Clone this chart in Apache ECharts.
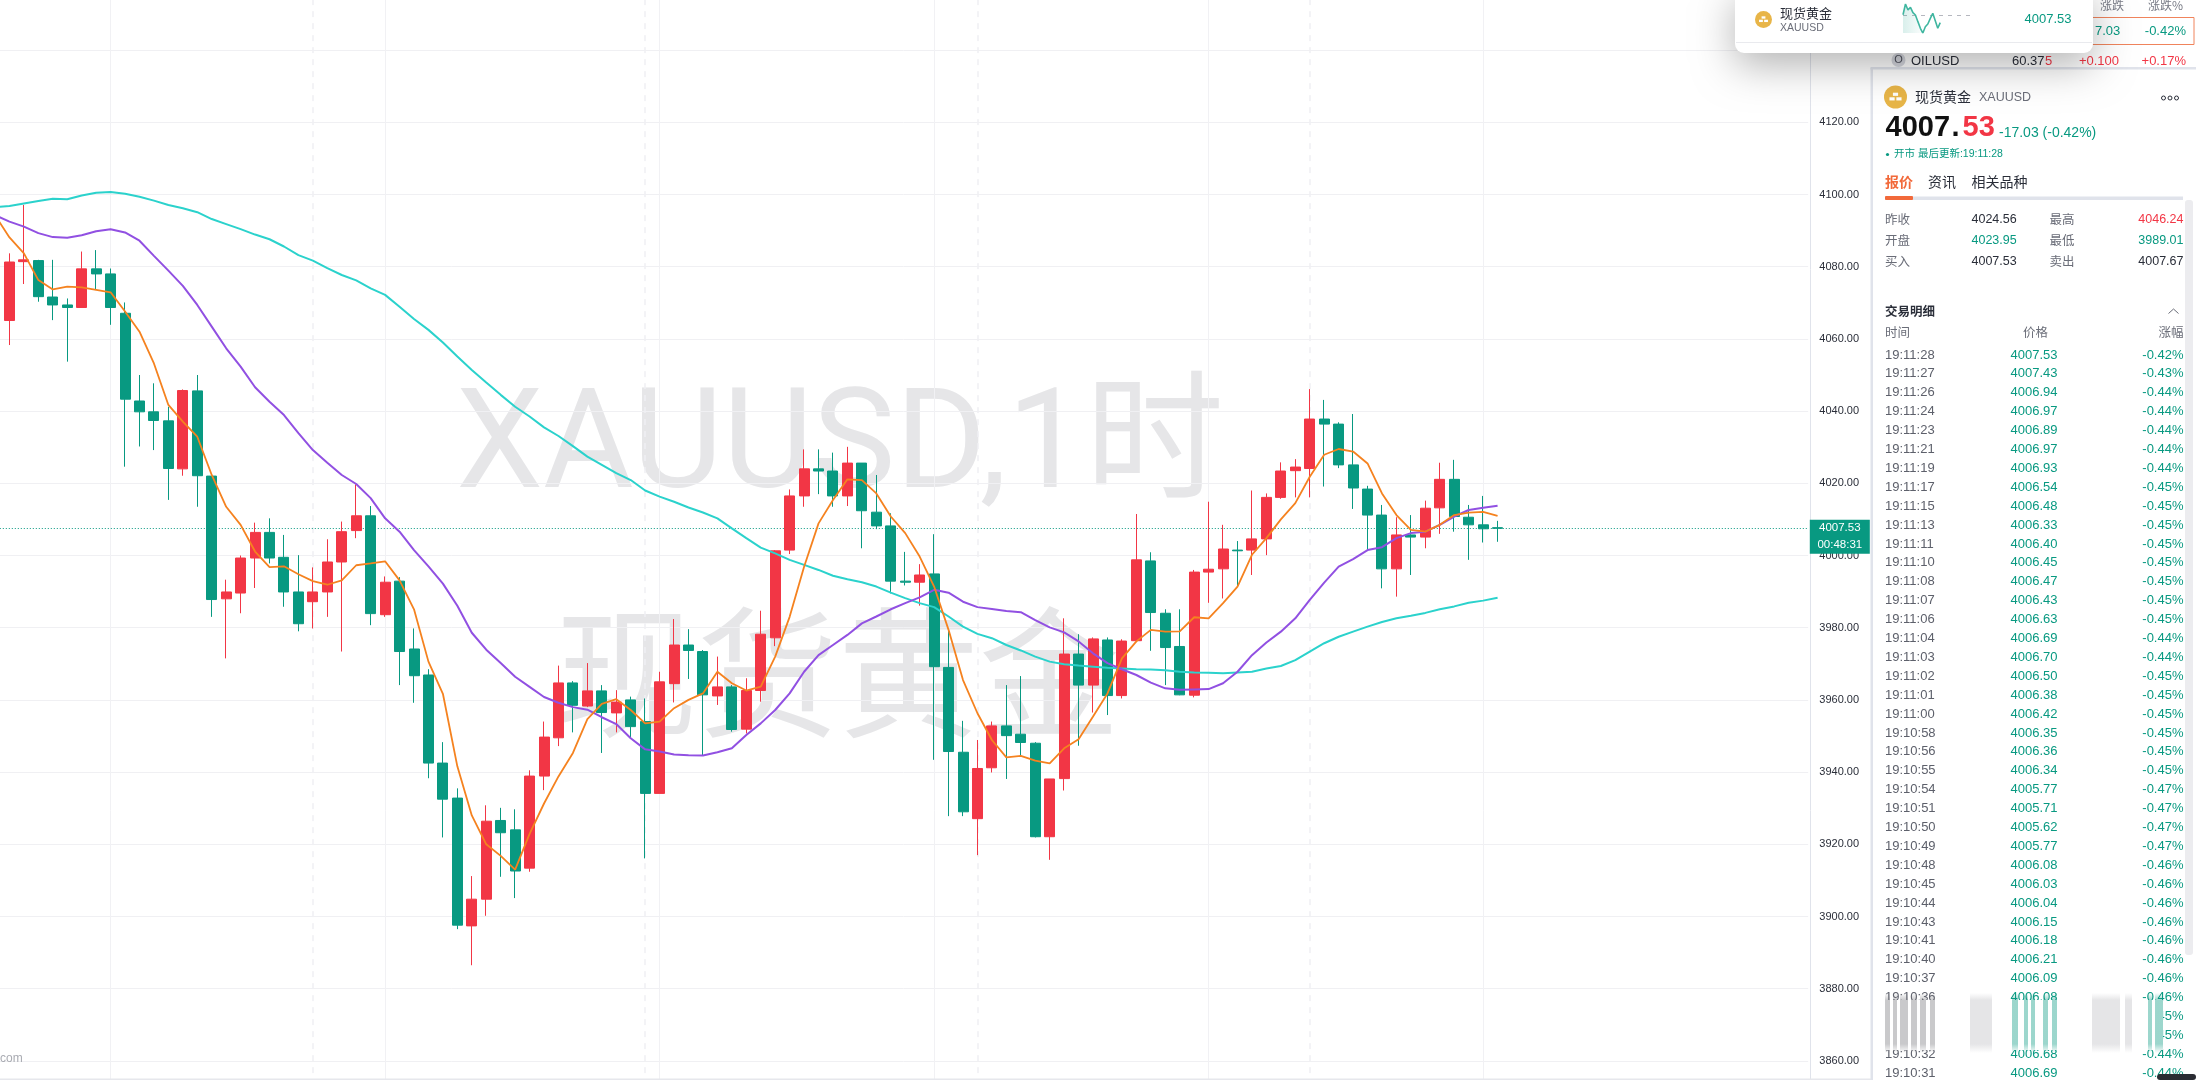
<!DOCTYPE html>
<html>
<head>
<meta charset="utf-8">
<title>XAUUSD</title>
<script src="https://cdn.jsdelivr.net/npm/echarts@6/dist/echarts.min.js"></script>
<style>
  html, body { margin: 0; padding: 0; background: #fff; }
  #chart { width: 2196px; height: 1080px; }
</style>
</head>
<body>
<div id="chart"></div>
<script>
// candles, oldest first
const candleOpen = [4065.1,4081.4,4081.7,4071.6,4069.4,4068.7,4079.4,4078.0,4067.1,4042.8,4039.8,4037.3,4024.0,4045.6,4022.0,3988.0,3989.6,3999.3,4006.4,3999.5,3989.9,3987.2,3989.9,3998.2,4006.9,4011.0,3983.6,3992.9,3974.1,3966.9,3942.5,3932.8,3897.4,3904.8,3926.6,3924.0,3913.4,3938.9,3949.5,3964.7,3958.3,3962.5,3956.4,3960.0,3954.0,3934.1,3964.5,3975.2,3973.4,3961.1,3963.6,3951.9,3962.6,3977.2,4001.5,4016.5,4024.0,4023.4,4016.5,4025.6,4012.0,4008.2,3992.9,3992.6,3994.9,3969.0,3945.5,3927.1,3941.2,3952.8,3950.5,3948.0,3922.1,3938.2,3972.7,3964.1,3976.6,3961.2,3976.4,3998.5,3984.0,3974.8,3961.3,3995.4,3996.3,4001.5,4001.5,4004.6,4016.1,4023.5,4024.1,4037.8,4036.4,4025.1,4018.4,4011.2,3996.3,4005.7,4005.1,4013.2,4021.1,4010.6,4008.5,4007.7];
const candleClose = [4081.3,4081.9,4071.7,4069.4,4068.7,4079.4,4078.0,4068.7,4043.3,4039.8,4037.4,4024.1,4045.7,4022.1,3987.8,3989.9,3999.3,4006.4,3999.3,3989.9,3981.1,3989.9,3998.2,4006.6,4011.0,3983.9,3992.6,3973.4,3966.7,3942.5,3932.5,3897.6,3904.8,3926.4,3923.2,3912.6,3938.9,3949.7,3964.7,3958.5,3962.5,3956.5,3959.4,3952.6,3934.1,3965.0,3975.2,3973.7,3961.4,3963.6,3951.8,3962.6,3978.2,4001.3,4016.5,4024.0,4023.4,4016.5,4025.6,4012.4,4008.2,3992.9,3992.6,3994.6,3969.2,3945.7,3929.0,3941.0,3952.8,3950.1,3948.2,3922.1,3938.1,3972.7,3964.1,3976.9,3961.2,3976.3,3998.8,3984.2,3974.5,3961.4,3995.4,3996.2,4001.8,4001.3,4004.6,4016.1,4023.4,4024.5,4037.8,4036.4,4025.1,4018.7,4011.2,3996.3,4005.7,4005.1,4013.1,4021.1,4010.8,4008.5,4007.4,4007.53];
const candleLow = [4058.3,4075.2,4070.3,4065.2,4053.7,4068.7,4073.7,4063.9,4024.6,4030.2,4029.2,4015.4,4022.1,4013.5,3983.0,3971.5,3984.0,3991.0,3997.8,3985.8,3979.0,3979.8,3983.0,3973.4,4004.8,3980.7,3983.0,3964.1,3959.2,3938.3,3921.9,3896.5,3886.5,3900.2,3911.0,3905.1,3912.4,3935.0,3947.2,3951.0,3958.0,3945.3,3951.0,3949.6,3916.1,3934.1,3959.3,3965.8,3944.7,3958.6,3951.2,3950.7,3959.5,3974.9,4000.4,4013.5,4017.0,4013.5,4013.7,4002.0,4007.3,3989.5,3991.7,3986.1,3943.4,3927.8,3927.8,3917.0,3939.9,3938.1,3944.7,3921.9,3915.7,3934.9,3947.3,3956.5,3955.8,3960.4,3976.4,3973.6,3964.1,3961.3,3960.7,3986.9,3988.1,3991.4,3994.6,4000.1,4015.7,4016.1,4016.1,4019.1,4024.2,4012.9,4001.5,3990.9,3988.6,3994.6,4002.0,4006.0,4006.6,3998.8,4003.6,4003.8];
const candleHigh = [4083.7,4097.1,4081.9,4081.9,4071.2,4084.2,4084.6,4079.5,4070.1,4050.0,4047.7,4041.2,4046.0,4050.0,4022.0,3993.3,4000.0,4009.1,4010.3,4005.7,4000.1,3996.7,4004.5,4009.4,4019.7,4013.7,3994.2,3994.0,3979.8,3968.5,3948.3,3935.5,3911.2,3930.8,3930.1,3929.7,3940.5,3954.0,3969.5,3965.2,3970.2,3964.1,3962.7,3960.9,3960.4,3967.8,3982.4,3979.6,3973.8,3972.0,3964.1,3966.0,3984.7,4001.5,4018.3,4029.4,4029.4,4028.5,4030.1,4025.6,4022.3,4011.7,4001.0,3997.6,4005.9,3979.4,3954.2,3948.9,3954.0,3964.1,3966.6,3948.3,3938.1,3982.6,3978.2,3977.3,3977.3,3976.8,4011.5,4000.9,3985.1,3985.1,3996.0,4014.9,4008.5,4004.0,4018.0,4017.2,4025.8,4026.7,4046.1,4043.1,4036.9,4039.2,4019.3,4014.0,4010.6,4011.2,4015.2,4025.7,4026.5,4014.0,4016.5,4009.6];

// moving averages start one bar earlier, left of the picture edge
const ma5 = [4094.3,4088.1,4083.7,4076.3,4073.7,4074.5,4074.3,4073.6,4072.9,4067.6,4062.0,4053.2,4041.7,4037.1,4032.9,4022.3,4013.5,4008.5,4001.1,3996.8,3997.0,3994.8,3992.9,3991.9,3993.1,3997.3,3997.8,3998.4,3993.1,3985.1,3970.6,3961.7,3941.6,3928.0,3920.0,3916.8,3913.0,3922.9,3931.3,3938.8,3945.3,3954.7,3958.9,3960.2,3957.2,3953.5,3954.0,3957.7,3960.0,3961.8,3967.8,3964.6,3962.6,3963.7,3972.0,3983.0,3996.9,4008.9,4015.4,4021.1,4020.9,4017.2,4010.8,4006.2,3999.7,3991.4,3979.4,3965.5,3956.3,3948.9,3944.1,3944.5,3943.2,3942.4,3946.6,3949.1,3955.4,3961.8,3971.5,3976.2,3979.4,3978.9,3979.0,3982.9,3982.6,3986.8,3991.4,4000.2,4004.8,4010.0,4014.5,4021.8,4027.9,4029.5,4028.8,4025.5,4017.2,4011.2,4007.1,4006.6,4008.5,4011.2,4011.9,4012.1,4011.0];
const ma20 = [4094.3,4092.5,4091.1,4089.3,4088.2,4088.0,4088.7,4089.8,4090.4,4089.5,4087.2,4083.0,4078.9,4074.7,4069.4,4063.4,4057.4,4052.3,4046.6,4042.6,4038.9,4033.9,4029.2,4025.7,4022.3,4019.8,4015.9,4010.3,4006.6,4001.5,3997.0,3992.2,3986.1,3978.6,3973.9,3970.2,3966.4,3963.6,3960.8,3959.2,3958.0,3957.3,3955.2,3953.3,3949.4,3946.3,3945.7,3944.9,3944.7,3944.6,3945.5,3946.6,3950.3,3953.5,3957.2,3961.8,3967.8,3972.4,3975.2,3978.0,3981.2,3983.1,3985.1,3986.8,3988.4,3990.5,3989.7,3987.2,3985.7,3985.2,3984.6,3984.3,3982.1,3980.1,3978.7,3976.2,3972.9,3970.2,3968.5,3966.9,3964.8,3963.2,3962.8,3962.9,3963.0,3964.6,3967.8,3972.4,3975.9,3978.9,3982.6,3987.7,3992.5,3996.9,3999.0,4001.5,4002.3,4004.8,4006.2,4006.6,4008.5,4010.8,4012.6,4013.2,4013.8];
const ma60 = [4096.5,4096.8,4097.5,4098.2,4098.8,4098.7,4099.7,4100.5,4100.7,4100.2,4099.4,4098.3,4097.1,4096.2,4095.1,4093.2,4091.8,4090.4,4088.9,4087.6,4085.6,4083.2,4081.7,4079.6,4077.7,4076.2,4074.0,4072.2,4068.9,4065.5,4062.5,4059.0,4055.1,4051.4,4047.9,4044.5,4041.2,4038.5,4035.5,4033.1,4030.3,4027.4,4025.1,4022.8,4020.9,4018.0,4016.3,4014.9,4013.3,4011.9,4010.3,4007.5,4004.8,4002.2,4000.6,3998.8,3997.4,3996.0,3994.4,3993.4,3992.6,3991.4,3989.7,3988.2,3986.8,3985.7,3983.1,3980.3,3978.3,3977.1,3975.2,3973.7,3972.0,3970.6,3969.9,3969.5,3969.2,3968.9,3968.7,3968.5,3968.4,3968.2,3967.8,3967.6,3967.5,3967.4,3967.6,3967.8,3968.7,3969.4,3971.0,3973.4,3975.7,3977.5,3978.9,3980.3,3981.6,3982.6,3983.3,3984.1,3985.1,3985.9,3986.9,3987.5,3988.3];

const yTicksMin = 3840;
const yTicksMax = 4160;
const yTickStep = 20;
const lastPrice = 4007.53;
const countdown = '00:48:31';
const gridBars = [7, 26, 45, 64, 83, 102];      // solid time lines fall on these candles
const sessionBars = [21, 44, 67, 90];           // dashed session breaks

// mini chart in the pop-up card
const sparkPrices = [4025.0,4046.2,4034.4,4039.7,4029.2,4024.6,4011.4,3998.3,3989.0,4001.5,4006.8,4018.0,4027.9,4013.4,3998.3,4009.5];
const sparkPrevClose = 4024.56;

// trade list
const tradeTimes = ['19:11:28','19:11:27','19:11:26','19:11:24','19:11:23','19:11:21','19:11:19','19:11:17','19:11:15','19:11:13','19:11:11','19:11:10','19:11:08','19:11:07','19:11:06','19:11:04','19:11:03','19:11:02','19:11:01','19:11:00','19:10:58','19:10:56','19:10:55','19:10:54','19:10:51','19:10:50','19:10:49','19:10:48','19:10:45','19:10:44','19:10:43','19:10:41','19:10:40','19:10:37','19:10:36','19:10:35','19:10:33','19:10:32','19:10:31'];
const tradePrices = ['4007.53','4007.43','4006.94','4006.97','4006.89','4006.97','4006.93','4006.54','4006.48','4006.33','4006.40','4006.45','4006.47','4006.43','4006.63','4006.69','4006.70','4006.50','4006.38','4006.42','4006.35','4006.36','4006.34','4005.77','4005.71','4005.62','4005.77','4006.08','4006.03','4006.04','4006.15','4006.18','4006.21','4006.09','4006.08','4006.30','4006.50','4006.68','4006.69'];
const tradeChanges = ['-0.42%','-0.43%','-0.44%','-0.44%','-0.44%','-0.44%','-0.44%','-0.45%','-0.45%','-0.45%','-0.45%','-0.45%','-0.45%','-0.45%','-0.45%','-0.44%','-0.44%','-0.45%','-0.45%','-0.45%','-0.45%','-0.45%','-0.45%','-0.47%','-0.47%','-0.47%','-0.47%','-0.46%','-0.46%','-0.46%','-0.46%','-0.46%','-0.46%','-0.46%','-0.46%','-0.45%','-0.45%','-0.44%','-0.44%'];

const RED = '#f23645';
const GREEN = '#089981';
const FONT = '"Liberation Sans","Noto Sans CJK SC",sans-serif';
const CJK = '"Noto Sans CJK SC",sans-serif';
const LEAD = 1;          // hidden bar left of the edge so the averages reach x=0
const BARS = 126;

const categories = Array.from({ length: BARS }, (_, i) => 'b' + (i - LEAD));
const candles = ['-'].concat(candleOpen.map((o, i) => [o, candleClose[i], candleLow[i], candleHigh[i]]));

const g = [];
function text(x, y, str, fill, size, opts) {
  opts = opts || {};
  g.push({
    type: 'text', x, y, z: opts.z || 5, silent: true,
    style: {
      text: str, fill, font: (opts.weight || 'normal') + ' ' + size + 'px ' + (opts.family || FONT),
      textAlign: opts.align || 'left', textVerticalAlign: 'middle'
    }
  });
}
function rect(x, y, w, h, fill, opts) {
  opts = opts || {};
  g.push({
    type: 'rect', z: opts.z || 4, silent: true,
    shape: { x, y, width: w, height: h, r: opts.r || 0 },
    style: Object.assign({ fill }, opts.style || {})
  });
}
function goldIcon(cx, cy, r, z) {
  g.push({ type: 'circle', z, silent: true, shape: { cx, cy, r }, style: { fill: '#e8b548' } });
  const u = r / 4;
  rect(cx - u * 0.9, cy - u * 1.5, u * 1.8, u * 1.1, '#fff', { z: z + 1 });
  rect(cx - u * 2.1, cy + u * 0.1, u * 1.8, u * 1.1, '#fff', { z: z + 1 });
  rect(cx + u * 0.3, cy + u * 0.1, u * 1.8, u * 1.1, '#fff', { z: z + 1 });
}

// watermark, behind everything
text(840, 452, 'XAUUSD,1时', '#e6e6e8', 139, { z: -1, family: 'Roboto,"Noto Sans CJK SC",sans-serif', align: 'center' });
text(838, 672, '现货黄金', '#e6e6e8', 141, { z: -1, family: CJK, align: 'center' });
text(0, 1059, 'com', '#a9abb2', 12);
rect(0, 1078.5, 1872, 1.5, '#e6e7ec');

// right panel frame
rect(1870.5, 68, 2.5, 1012, '#e0e3eb');
rect(1870.5, 67, 326, 2.5, '#e0e3eb');

// watch list row that stays visible behind the pop-up
text(2100, 5, '涨跌', '#787b86', 12, { family: CJK, z: 3 });
text(2183, 5, '涨跌%', '#787b86', 12, { family: CJK, align: 'right', z: 3 });
g.push({ type: 'rect', z: 3, silent: true, shape: { x: 2090, y: 17.5, width: 104, height: 27 }, style: { fill: '#fff', stroke: '#f0845c', lineWidth: 1 } });
text(2095, 31, '7.03', GREEN, 13);
text(2186, 31, '-0.42%', GREEN, 13, { align: 'right' });
g.push({ type: 'circle', z: 4, silent: true, shape: { cx: 1898.5, cy: 60, r: 7 }, style: { fill: '#d5d7de' } });
text(1898.5, 59.5, 'O', '#50535e', 11, { align: 'center', z: 5 });
text(1911, 61, 'OILUSD', '#2a2e39', 13);
text(2012, 61, '60.37', '#2a2e39', 13);
text(2045, 61, '5', RED, 13);
text(2119, 61, '+0.100', RED, 13, { align: 'right' });
text(2186, 61, '+0.17%', RED, 13, { align: 'right' });

// quote header
goldIcon(1895.5, 97, 11.5, 5);
text(1915, 97, '现货黄金', '#2a2e39', 14, { family: CJK });
text(1979, 98, 'XAUUSD', '#6a6d78', 12.5);
[2163.5, 2170, 2176.5].forEach(cx => g.push({ type: 'circle', z: 5, silent: true, shape: { cx, cy: 98, r: 2 }, style: { fill: '#fff', stroke: '#2a2e39', lineWidth: 1 } }));
text(1885.5, 128, '4007', '#111', 29, { weight: 'bold' });
text(1951.5, 128, '.', '#111', 29, { weight: 'bold' });
text(1962.5, 128, '53', RED, 29, { weight: 'bold' });
text(1999, 133.5, '-17.03 (-0.42%)', GREEN, 14);
g.push({ type: 'circle', z: 5, silent: true, shape: { cx: 1887.5, cy: 154.5, r: 1.6 }, style: { fill: GREEN } });
text(1894, 154.5, '开市 最后更新:19:11:28', GREEN, 10.5, { family: FONT });

// tabs
text(1885, 181.5, '报价', '#f2693a', 14, { family: CJK, weight: 'bold' });
text(1928, 181.5, '资讯', '#2a2e39', 14, { family: CJK });
text(1971.5, 181.5, '相关品种', '#2a2e39', 14, { family: CJK });
rect(1885, 196.5, 298, 3.5, '#e0e3eb');
rect(1885, 196, 28, 4, '#f2693a', { r: 1 });

// day stats
const statRows = [
  ['昨收', '4024.56', '#2a2e39', '最高', '4046.24', RED],
  ['开盘', '4023.95', GREEN, '最低', '3989.01', GREEN],
  ['买入', '4007.53', '#2a2e39', '卖出', '4007.67', '#2a2e39']
];
statRows.forEach((r, i) => {
  const y = 219.5 + i * 21;
  text(1885, y, r[0], '#6a6d78', 12.5, { family: CJK });
  text(1971.5, y, r[1], r[2], 12.5);
  text(2049.5, y, r[3], '#6a6d78', 12.5, { family: CJK });
  text(2183.5, y, r[4], r[5], 12.5, { align: 'right' });
});

// trade list
text(1885, 311.5, '交易明细', '#2a2e39', 12.5, { family: CJK, weight: 'bold' });
g.push({ type: 'polyline', z: 5, silent: true, shape: { points: [[2168.5, 313.5], [2173.5, 309], [2178.5, 313.5]] }, style: { stroke: '#6a6d78', fill: null, lineWidth: 1 } });
text(1885, 332.5, '时间', '#6a6d78', 12.5, { family: CJK });
text(2023, 332.5, '价格', '#6a6d78', 12.5, { family: CJK });
text(2183.5, 332.5, '涨幅', '#6a6d78', 12.5, { family: CJK, align: 'right' });
tradeTimes.forEach((t, i) => {
  const y = 355 + i * 18.9;
  text(1885, y, t, '#5d606b', 13);
  text(2010.5, y, tradePrices[i], GREEN, 13);
  text(2183.5, y, tradeChanges[i], GREEN, 13, { align: 'right' });
});
rect(2185, 200, 8, 755, '#ececef', { r: 3 });

// smeared strip over the list near the bottom
rect(1873, 1000, 290, 50, '#fff', { z: 6 });
const fade = c => ({ type: 'linear', x: 0, y: 0, x2: 0, y2: 1, colorStops: [
  { offset: 0, color: c.replace('A', '0') }, { offset: .12, color: c.replace('A', '.4') },
  { offset: .85, color: c.replace('A', '.4') }, { offset: 1, color: c.replace('A', '0') }] });
const grey = 'rgba(120,120,125,A)', lightGrey = 'rgba(190,190,195,A)', teal = 'rgba(8,153,129,A)';
[[1885,5,grey],[1893,4,grey],[1900,8,grey],[1911,6,grey],[1920,6,grey],[1930,5,grey],[1970,22,lightGrey],
 [2012,6,teal],[2024,4,teal],[2031,4,teal],[2043,5,teal],[2052,5,teal],[2092,28,lightGrey],[2125,7,lightGrey],
 [2148,4,teal],[2155,8,teal]].forEach(s => rect(s[0], 993, s[1], 60, fade(s[2]), { z: 7 }));
rect(2157, 1074, 39, 6, '#2a2c33', { z: 8, r: 3 });

// pop-up card
rect(1735, -12, 358, 65, '#fff', { z: 20, r: 9, style: { shadowBlur: 40, shadowColor: 'rgba(0,0,0,.3)', shadowOffsetY: 12 } });
rect(1736, 42, 356, 1, '#e9eaee', { z: 21 });
goldIcon(1763.5, 19.5, 8.5, 22);
text(1780, 13.5, '现货黄金', '#2a2e39', 13, { z: 22, family: CJK });
text(1780, 28, 'XAUUSD', '#6a6d78', 10.5, { z: 22 });
text(2024.5, 19.5, '4007.53', GREEN, 13, { z: 22 });

const option = {
  animation: false,
  backgroundColor: '#fff',
  grid: [
    { left: -12.2, top: -22.1, width: 1820.4, height: 1155.2, outerBoundsMode: 'none' },
    { left: 1903, top: 4, width: 72, height: 29, z: 30, outerBoundsMode: 'none' }
  ],
  xAxis: [
    { type: 'category', data: categories, gridIndex: 0, show: false },
    { type: 'category', data: sparkPrices.map((_, i) => i).concat(Array(14).fill('')), gridIndex: 1, show: false, boundaryGap: false }
  ],
  yAxis: [
    {
      type: 'value', gridIndex: 0, position: 'right', offset: 1.6,
      min: yTicksMin, max: yTicksMax, interval: yTickStep,
      axisLine: { show: true, lineStyle: { color: '#e0e3eb' } },
      axisTick: { show: false },
      splitLine: { lineStyle: { color: '#f0f0f3' } },
      axisLabel: {
        color: '#2a2e39', fontFamily: 'Liberation Sans', fontSize: 11, margin: 9.5,
        showMinLabel: false, showMaxLabel: false, formatter: v => v.toFixed(2)
      }
    },
    { type: 'value', gridIndex: 1, show: false, min: 3989.01, max: 4046.24 }
  ],
  series: [
    {
      type: 'line', name: 'time lines', xAxisIndex: 0, yAxisIndex: 0, data: [], z: 1, silent: true,
      markLine: {
        symbol: 'none', silent: true, label: { show: false }, z: 1,
        data: gridBars.map(i => ({ xAxis: i + LEAD, lineStyle: { color: '#f1f1f4', width: 1, type: 'solid' } }))
          .concat(sessionBars.map(i => ({ xAxis: i + LEAD, lineStyle: { color: '#f0f0f3', width: 1.5, type: [6, 6] } })))
      }
    },
    {
      type: 'candlestick', name: 'XAUUSD', xAxisIndex: 0, yAxisIndex: 0, data: candles, barWidth: 10.5, z: 3,
      itemStyle: { color: RED, color0: GREEN, borderColor: RED, borderColor0: GREEN, borderWidth: 1 },
      markLine: {
        symbol: 'none', silent: true, z: 2,
        lineStyle: { color: GREEN, type: [1, 2], width: 1 },
        data: [{ yAxis: lastPrice }],
        label: {
          show: true, position: 'end', distance: 1.6, align: 'left', offset: [0, 8.5],
          formatter: () => '{a|' + lastPrice.toFixed(2) + '}\n{a|' + countdown + '}',
          backgroundColor: GREEN, padding: 0,
          rich: { a: { color: '#fff', fontFamily: 'Liberation Sans', fontSize: 11.5, lineHeight: 17, width: 60, align: 'center' } }
        }
      }
    },
    { type: 'line', name: 'MA60', xAxisIndex: 0, yAxisIndex: 0, data: ma60, symbol: 'none', z: 4, lineStyle: { color: '#2bd2cc', width: 2 } },
    { type: 'line', name: 'MA20', xAxisIndex: 0, yAxisIndex: 0, data: ma20, symbol: 'none', z: 5, lineStyle: { color: '#9150e2', width: 2 } },
    { type: 'line', name: 'MA5', xAxisIndex: 0, yAxisIndex: 0, data: ma5, symbol: 'none', z: 6, lineStyle: { color: '#f5821f', width: 1.8 } },
    {
      type: 'line', name: 'spark', xAxisIndex: 1, yAxisIndex: 1, data: sparkPrices, symbol: 'none', z: 30, silent: true,
      lineStyle: { color: '#3fb6a0', width: 1.6 },
      areaStyle: {
        origin: 'start',
        color: { type: 'linear', x: 0, y: 0, x2: 1, y2: 0, colorStops: [{ offset: 0, color: 'rgba(8,153,129,.22)' }, { offset: .6, color: 'rgba(8,153,129,0)' }] }
      },
      markLine: {
        symbol: 'none', silent: true, label: { show: false }, z: 30,
        lineStyle: { color: '#b5b7bf', type: [4, 5], width: 1 },
        data: [{ yAxis: sparkPrevClose }]
      }
    }
  ],
  graphic: g
};

const chart = echarts.init(document.getElementById('chart'));
chart.setOption(option);
window.addEventListener('resize', () => chart.resize());
</script>
</body>
</html>
